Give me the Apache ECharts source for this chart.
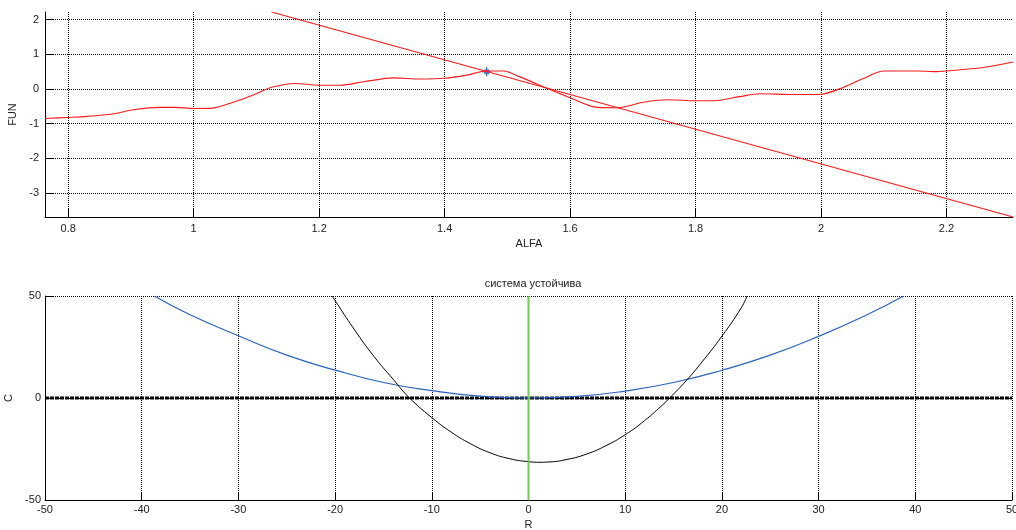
<!DOCTYPE html>
<html>
<head>
<meta charset="utf-8">
<script src="https://cdn.jsdelivr.net/npm/echarts@6/dist/echarts.min.js"></script>
<style>
html,body{margin:0;padding:0;background:#fff;}
#c{width:1016px;height:530px;}
</style>
</head>
<body>
<div id="c"></div>
<script>
// ---- Top plot data ----
const funX = [0.763,0.8,0.83,0.87,0.904,0.946,0.97,1.0,1.03,1.063,1.095,1.124,1.162,1.2,1.233,1.271,1.319,1.361,1.4,1.435,1.467,1.494,1.52,1.566,1.6,1.643,1.675,1.717,1.757,1.8,1.829,1.87,1.903,1.956,2.0,2.036,2.068,2.1,2.153,2.18,2.2,2.258,2.306];
const funY = [-0.85,-0.82,-0.79,-0.72,-0.6,-0.53,-0.53,-0.56,-0.55,-0.38,-0.17,0.05,0.16,0.11,0.11,0.21,0.32,0.29,0.31,0.4,0.52,0.52,0.35,0.0,-0.25,-0.53,-0.54,-0.38,-0.31,-0.34,-0.34,-0.22,-0.135,-0.16,-0.15,0.05,0.31,0.52,0.52,0.5,0.52,0.62,0.78];
const lineX = [1.124, 2.306];
const lineY = [2.22, -3.69];
const starPoint = [1.467, 0.5];
const alfaTicks = [0.8,1,1.2,1.4,1.6,1.8,2,2.2];
const funTicks = [-3,-2,-1,0,1,2];

// ---- Bottom plot data ----
const blueR = [-38.7,-35,-30,-25,-20,-15,-10,-5,0,5,10,15,20,25,30,35,38.8];
const blueC = [50,40.8,30.5,21,13.7,7.6,3.6,0.9,0,0.8,3.4,7.6,13.6,21,30.2,40.8,50];
const blackR = [-20.3,-18,-16,-14,-12.4,-10,-8,-6,-4,-2,0,1.2,2,4,6,8,10,12,14,14.6,16.35,18,20,22,22.6];
const blackC = [50,33.5,20.5,9.2,0.5,-9.6,-16.7,-22.4,-26.8,-29.7,-31.2,-31.5,-31.4,-30.1,-27.5,-23.4,-18,-11.1,-2.8,0,8.7,18,30.3,44.2,50];
const zeroR = [-50, 50];
const zeroC = [0, 0];
const greenR = [0, 0];
const greenC = [-50, 50];
const titleText = 'система устойчива';

const zip = (a, b) => a.map((v, i) => [v, b[i]]);
const FONT = 'Liberation Sans, Arial, sans-serif';
const txt = { fontFamily: FONT, fontSize: 11, color: '#222' };
const gridLine = { show: true, lineStyle: { color: '#000', type: [1, 1], width: 1 } };
const axLine = { show: true, onZero: false, lineStyle: { color: '#000', width: 1 } };
const tick = { show: true, inside: true, length: 8, lineStyle: { color: '#000' } };

const chart = echarts.init(document.getElementById('c'), null, { renderer: 'canvas' });
chart.setOption({
  animation: false,
  backgroundColor: '#fff',
  title: {
    text: titleText, left: 528, top: 273, textAlign: 'center',
    textStyle: { fontFamily: FONT, fontSize: 11, fontWeight: 'normal', color: '#222' }
  },
  grid: [
    { left: 45, top: 12, width: 968, height: 205, outerBoundsMode: 'none', containLabel: false },
    { left: 45, top: 296, width: 967, height: 204, outerBoundsMode: 'none', containLabel: false }
  ],
  xAxis: [
    {
      gridIndex: 0, type: 'value', min: 0.763, max: 2.306,
      name: 'ALFA', nameLocation: 'middle', nameGap: 21, nameTextStyle: txt,
      axisLine: axLine, axisTick: Object.assign({}, tick, { customValues: alfaTicks }),
      axisLabel: Object.assign({}, txt, { customValues: alfaTicks, margin: 6 }),
      splitLine: gridLine
    },
    {
      gridIndex: 1, type: 'value', min: -50, max: 50, interval: 10,
      name: 'R', nameLocation: 'middle', nameGap: 19, nameTextStyle: txt,
      axisLine: axLine, axisTick: tick,
      axisLabel: Object.assign({}, txt, { margin: 4 }),
      splitLine: gridLine
    }
  ],
  yAxis: [
    {
      gridIndex: 0, type: 'value', min: -3.69, max: 2.22,
      name: 'FUN', nameLocation: 'middle', nameGap: 24, nameTextStyle: txt,
      axisLine: axLine, axisTick: Object.assign({}, tick, { customValues: funTicks }),
      axisLabel: Object.assign({}, txt, { customValues: funTicks, margin: 6 }),
      splitLine: gridLine
    },
    {
      gridIndex: 1, type: 'value', min: -50, max: 50, interval: 50,
      name: 'C', nameLocation: 'middle', nameGap: 30, nameTextStyle: txt,
      axisLine: axLine, axisTick: tick,
      axisLabel: Object.assign({}, txt, { margin: 4 }),
      splitLine: gridLine
    }
  ],
  series: [
    {
      type: 'line', xAxisIndex: 0, yAxisIndex: 0, data: zip(funX, funY),
      smooth: 0.3, showSymbol: false, lineStyle: { color: '#ff1a1a', width: 1.1 }
    },
    {
      type: 'line', xAxisIndex: 0, yAxisIndex: 0, data: zip(lineX, lineY),
      showSymbol: false, lineStyle: { color: '#ff1a1a', width: 1.1 }
    },
    {
      type: 'scatter', xAxisIndex: 0, yAxisIndex: 0, data: [starPoint],
      symbol: 'path://M0,-5L0,5M-5,0L5,0M-2.5,-2.5L2.5,2.5M-2.5,2.5L2.5,-2.5',
      symbolSize: 9,
      itemStyle: { color: 'transparent', borderColor: '#1f4fa8', borderWidth: 1.5 }
    },
    {
      type: 'line', xAxisIndex: 1, yAxisIndex: 1, data: zip(zeroR, zeroC),
      showSymbol: false, lineStyle: { color: '#000', width: 3, type: [4, 1] }, z: 3
    },
    {
      type: 'line', xAxisIndex: 1, yAxisIndex: 1, data: zip(blueR, blueC),
      smooth: true, showSymbol: false, lineStyle: { color: '#2a62c0', width: 1.2 }
    },
    {
      type: 'line', xAxisIndex: 1, yAxisIndex: 1, data: zip(blackR, blackC),
      smooth: true, showSymbol: false, lineStyle: { color: '#000', width: 1 }
    },
    {
      type: 'line', xAxisIndex: 1, yAxisIndex: 1, data: zip(greenR, greenC),
      showSymbol: false, lineStyle: { color: '#77c35e', width: 2 }, z: 4
    }
  ]
});
</script>
</body>
</html>
